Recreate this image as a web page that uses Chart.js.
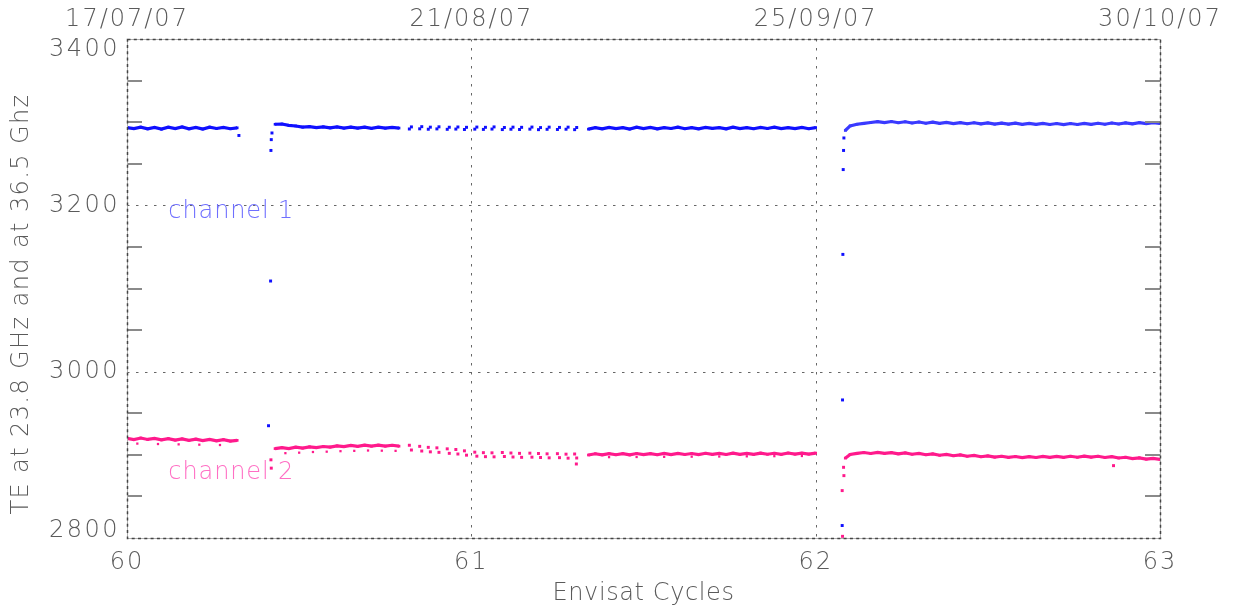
<!DOCTYPE html>
<html>
<head>
<meta charset="utf-8">
<script src="https://cdn.jsdelivr.net/npm/chart.js@4/dist/chart.umd.min.js"></script>
<style>
  html, body { margin: 0; padding: 0; background: #fff; }
  #wrap { width: 1235px; height: 611px; }
</style>
</head>
<body>
<div id="wrap"><canvas id="chart"></canvas></div>
<script>
// cycle positions (x) of the sampled points
const xSegA = [60.00,60.02,60.04,60.06,60.08,60.10,60.12,60.14,60.16,60.18,60.20,60.22,60.24,60.26,60.28,60.30,60.32];
const xSegB = [60.43,60.45,60.47,60.49,60.51,60.53,60.55,60.57,60.59,60.61,60.63,60.65,60.67,60.69,60.71,60.73,60.75,60.77,60.79];
const xSparse = [60.82,60.85,60.875,60.90,60.93,60.955,60.98,61.01,61.035,61.06,61.09,61.115,61.14,61.17,61.195,61.22,61.25,61.275,61.30];
const xSparse2 = [60.826,60.856,60.881,60.906,60.936,60.961,60.986,61.016,61.041,61.066,61.096,61.121,61.146,61.176,61.201,61.226,61.256,61.281,61.306];
const xSegB2 = [61.34,61.36,61.38,61.40,61.42,61.44,61.46,61.48,61.50,61.52,61.54,61.56,61.58,61.60,61.62,61.64,61.66,61.68,61.70,61.72,61.74,61.76,61.78,61.80,61.82,61.84,61.86,61.88,61.90,61.92,61.94,61.96,61.98,62.00];
const xSegC = [62.086,62.10,62.12,62.14,62.16,62.18,62.20,62.22,62.24,62.26,62.28,62.30,62.32,62.34,62.36,62.38,62.40,62.42,62.44,62.46,62.48,62.50,62.52,62.54,62.56,62.58,62.60,62.62,62.64,62.66,62.68,62.70,62.72,62.74,62.76,62.78,62.80,62.82,62.84,62.86,62.88,62.90,62.92,62.94,62.96,62.98,63.00];

// channel 1 (blue)
const ch1SegA = [3293.5,3292.3,3294.0,3292.0,3293.6,3291.6,3293.9,3292.3,3294.2,3292.0,3293.6,3291.8,3294.0,3292.4,3293.8,3292.1,3293.2];
const ch1SegB = [3297.5,3297.8,3296.2,3295.4,3294.1,3294.6,3293.4,3294.4,3293.1,3294.2,3292.8,3294.1,3292.9,3294.0,3292.6,3293.9,3292.8,3293.8,3292.9];
const ch1SparseLow = [3291.8,3292.0,3291.5,3291.9,3291.4,3291.7,3291.2,3291.6,3291.3,3291.7,3291.1,3291.5,3291.2,3291.6,3291.0,3291.4,3291.2,3291.5,3291.0];
const ch1SparseHigh = [3294.3,3294.6,3294.0,3294.4,3293.9,3294.2,3293.8,3294.1,3293.8,3294.3,3293.6,3294.0,3293.8,3294.1,3293.5,3294.0,3293.7,3294.0,3293.6];
const ch1SegB2 = [3291.6,3293.4,3292.0,3293.8,3292.2,3293.4,3291.8,3293.9,3292.3,3293.6,3291.9,3293.4,3292.4,3294.0,3292.1,3293.5,3292.0,3293.8,3292.5,3293.4,3291.9,3293.9,3292.2,3293.5,3292.1,3293.6,3292.4,3293.9,3292.2,3293.4,3292.3,3293.8,3292.1,3293.5];
const ch1SegC = [3290.0,3295.5,3297.5,3298.6,3299.6,3300.6,3299.4,3300.8,3299.3,3300.5,3299.0,3300.2,3298.7,3300.0,3298.5,3299.7,3298.3,3299.5,3298.1,3299.3,3297.9,3299.1,3297.7,3298.9,3297.6,3298.8,3297.4,3298.6,3297.3,3298.5,3297.2,3298.4,3297.1,3298.4,3297.2,3298.5,3297.3,3298.7,3297.5,3299.0,3297.8,3299.2,3298.0,3299.4,3298.2,3299.5,3298.6];
const ch1OutX = [60.325,60.411,60.417,60.418,60.419,60.421,62.077,62.078,62.079,62.080,62.081,62.082];
const ch1OutY = [3284,2935,3109,3266,3279,3287,2815,2966,3141,3243,3266,3281];

// channel 2 (pink)
const ch2SegA = [2919.8,2918.4,2920.2,2918.5,2919.7,2918.0,2919.5,2917.7,2919.2,2917.4,2918.9,2917.2,2918.6,2916.9,2918.2,2916.6,2917.4];
const ch2SegB = [2907.5,2908.6,2907.6,2909.2,2908.1,2909.6,2908.6,2910.0,2909.4,2910.8,2909.8,2911.3,2910.2,2911.6,2910.4,2911.7,2910.5,2911.5,2910.4];
const ch2SparseHigh = [2911.5,2910.2,2909.0,2908.4,2907.2,2906.4,2904.8,2903.2,2902.6,2902.4,2902.8,2902.2,2901.8,2902.0,2901.6,2901.2,2901.4,2900.8,2901.0];
const ch2SparseLow = [2905.8,2904.6,2903.6,2903.0,2901.8,2901.0,2899.6,2898.4,2897.8,2897.6,2898.0,2897.4,2897.0,2897.2,2896.8,2896.4,2896.6,2896.0,2896.2];
const ch2SegB2 = [2899.8,2901.3,2900.0,2901.5,2900.1,2901.4,2899.9,2901.6,2900.2,2901.4,2900.1,2901.7,2900.3,2901.8,2900.4,2901.6,2900.2,2901.9,2900.5,2901.7,2900.4,2902.0,2900.6,2901.8,2900.5,2902.1,2900.7,2901.9,2900.6,2902.2,2900.8,2902.0,2900.9,2902.1];
const ch2SegC = [2896.0,2900.5,2901.8,2902.8,2901.6,2903.0,2901.7,2902.7,2901.2,2902.3,2900.7,2901.7,2900.1,2901.1,2899.5,2900.5,2898.9,2899.9,2898.3,2899.3,2897.7,2898.7,2897.3,2898.3,2896.9,2898.0,2896.7,2897.9,2896.8,2898.1,2896.9,2898.2,2897.0,2898.3,2897.1,2898.4,2897.2,2898.3,2896.8,2897.8,2896.2,2897.1,2895.5,2896.4,2894.8,2895.8,2894.6];
const ch2LowX = [60.03,60.09,60.15,60.21,60.27,60.46,60.50,60.54,60.58,60.62,60.66,60.70,60.74,60.78,61.40,61.48,61.56,61.64,61.72,61.80,61.88,61.96];
const ch2LowY = [2913.5,2913.0,2912.6,2912.2,2911.8,2902.0,2902.6,2903.4,2903.8,2904.4,2904.8,2905.2,2905.0,2904.8,2897.2,2897.4,2897.6,2897.8,2898.0,2898.2,2898.4,2898.6];
const ch2OutX = [60.418,60.419,61.305,62.077,62.078,62.081,62.082,62.865];
const ch2OutY = [2894,2884,2889,2857,2802,2885,2875,2887];

// axes
const xTicks = [60, 61, 62, 63];
const dateLabels = ["17/07/07", "21/08/07", "25/09/07", "30/10/07"];
const yLabels = [2800, 3000, 3200, 3400];
const yMinor = [2850,2900,2950,3050,3100,3150,3250,3300,3350];

const BLUE = "#1010ff";
const BLUE2 = "#3a3aff";
const PINK = "#ff1a8c";
const TXT = "#5a5a5a";
const FONT = "'DejaVu Sans', sans-serif";

function pts(xs, ys) {
  return xs.map((x, i) => ({ x: x, y: ys[i] }));
}

function lineSet(xs, ys, color) {
  return {
    data: pts(xs, ys), showLine: true, borderColor: color, borderWidth: 3.2,
    backgroundColor: color, pointStyle: "rect", pointRadius: 1.9, pointBorderWidth: 0
  };
}

function dotSet(xs, ys, color, r) {
  return {
    data: pts(xs, ys), showLine: false, backgroundColor: color,
    pointStyle: "rect", pointRadius: r || 2.1, pointBorderWidth: 0
  };
}

const frame = {
  id: "frame",
  beforeDraw(chart) {
    chart.ctx.letterSpacing = "2px";
  },
  beforeDatasetsDraw(chart) {
    const { ctx, chartArea: a, scales } = chart;
    ctx.save();
    ctx.strokeStyle = "#666";
    ctx.lineWidth = 1;
    ctx.setLineDash([2.5, 6.5]);
    [61, 62].forEach(v => {
      const px = Math.round(scales.x.getPixelForValue(v)) + 0.5;
      ctx.beginPath(); ctx.moveTo(px, a.top); ctx.lineTo(px, a.bottom); ctx.stroke();
    });
    [3000, 3200].forEach(v => {
      const py = Math.round(scales.y.getPixelForValue(v)) + 0.5;
      ctx.beginPath(); ctx.moveTo(a.left, py); ctx.lineTo(a.right, py); ctx.stroke();
    });
    ctx.restore();
  },
  afterDatasetsDraw(chart) {
    const { ctx, chartArea: a, scales } = chart;
    ctx.save();
    // minor ticks, inward on both sides
    ctx.strokeStyle = "#8a8a8a";
    ctx.lineWidth = 2;
    yMinor.forEach(v => {
      const py = Math.round(scales.y.getPixelForValue(v));
      ctx.beginPath(); ctx.moveTo(a.left, py); ctx.lineTo(a.left + 15, py); ctx.stroke();
      ctx.beginPath(); ctx.moveTo(a.right - 15, py); ctx.lineTo(a.right, py); ctx.stroke();
    });
    // frame
    ctx.strokeStyle = "#b0b0b0";
    ctx.lineWidth = 1;
    ctx.strokeRect(a.left + 0.5, a.top + 0.5, a.right - a.left, a.bottom - a.top);
    ctx.strokeStyle = "#444";
    ctx.lineWidth = 1.5;
    ctx.setLineDash([3, 3.3]);
    ctx.strokeRect(a.left + 0.5, a.top + 0.5, a.right - a.left, a.bottom - a.top);
    ctx.setLineDash([]);

    // y labels, end labels kept inside the axis
    ctx.fillStyle = TXT;
    ctx.font = "300 24px " + FONT;
    ctx.letterSpacing = "2.5px";
    ctx.textAlign = "right";
    ctx.textBaseline = "middle";
    yLabels.forEach(v => {
      let py = scales.y.getPixelForValue(v);
      py = Math.min(Math.max(py, a.top + 11), a.bottom - 7);
      ctx.fillText(String(v), a.left - 7, py);
    });

    // axis titles
    ctx.textAlign = "center";
    ctx.letterSpacing = "0.6px";
    ctx.fillText("Envisat Cycles", (a.left + a.right) / 2, 594);
    ctx.save();
    ctx.letterSpacing = "1.4px";
    ctx.translate(22, 304);
    ctx.rotate(-Math.PI / 2);
    ctx.fillText("TE at 23.8 GHz and at 36.5 Ghz", 0, 0);
    ctx.restore();

    // channel labels
    ctx.textAlign = "left";
    ctx.letterSpacing = "0.9px";
    ctx.fillStyle = "#6f6fff";
    ctx.fillText("channel 1", scales.x.getPixelForValue(60.12), scales.y.getPixelForValue(3192));
    ctx.fillStyle = "#ff6fc4";
    ctx.fillText("channel 2", scales.x.getPixelForValue(60.12), scales.y.getPixelForValue(2879));
    ctx.restore();
  },
  afterDraw(chart) {
    chart.ctx.letterSpacing = "0px";
  }
};

new Chart(document.getElementById("chart"), {
  type: "scatter",
  data: {
    datasets: [
      lineSet(xSegA, ch1SegA, BLUE),
      lineSet(xSegB, ch1SegB, BLUE),
      dotSet(xSparse, ch1SparseLow, BLUE),
      dotSet(xSparse2, ch1SparseHigh, BLUE),
      lineSet(xSegB2, ch1SegB2, BLUE),
      lineSet(xSegC, ch1SegC, BLUE2),
      dotSet(ch1OutX, ch1OutY, BLUE),
      lineSet(xSegA, ch2SegA, PINK),
      lineSet(xSegB, ch2SegB, PINK),
      dotSet(xSparse, ch2SparseHigh, PINK),
      dotSet(xSparse2, ch2SparseLow, PINK),
      lineSet(xSegB2, ch2SegB2, PINK),
      lineSet(xSegC, ch2SegC, PINK),
      dotSet(ch2LowX, ch2LowY, PINK, 1.6),
      dotSet(ch2OutX, ch2OutY, PINK)
    ]
  },
  options: {
    responsive: true,
    maintainAspectRatio: false,
    animation: false,
    layout: { padding: { right: 75, top: 0, left: 0, bottom: 0 } },
    plugins: { legend: { display: false }, tooltip: { enabled: false } },
    scales: {
      x: {
        type: "linear", position: "bottom", min: 60, max: 63,
        afterBuildTicks: s => { s.ticks = xTicks.map(v => ({ value: v })); },
        afterFit: s => { s.height = 73; },
        grid: { display: false, drawTicks: false },
        border: { display: false },
        ticks: { color: TXT, font: { size: 24, family: FONT, weight: 300 }, padding: 10, maxRotation: 0, autoSkip: false }
      },
      x2: {
        type: "linear", position: "top", min: 60, max: 63,
        afterBuildTicks: s => { s.ticks = xTicks.map(v => ({ value: v })); },
        afterFit: s => { s.height = 39; },
        grid: { display: false, drawTicks: false },
        border: { display: false },
        ticks: {
          color: TXT, font: { size: 24, family: FONT, weight: 300 }, padding: 5, maxRotation: 0, autoSkip: false,
          callback: v => dateLabels[xTicks.indexOf(v)]
        }
      },
      y: {
        type: "linear", position: "left", min: 2800, max: 3400,
        afterFit: s => { s.width = 127; },
        grid: { display: false, drawTicks: false },
        border: { display: false },
        ticks: { display: false }
      }
    }
  },
  plugins: [frame]
});
</script>
</body>
</html>
